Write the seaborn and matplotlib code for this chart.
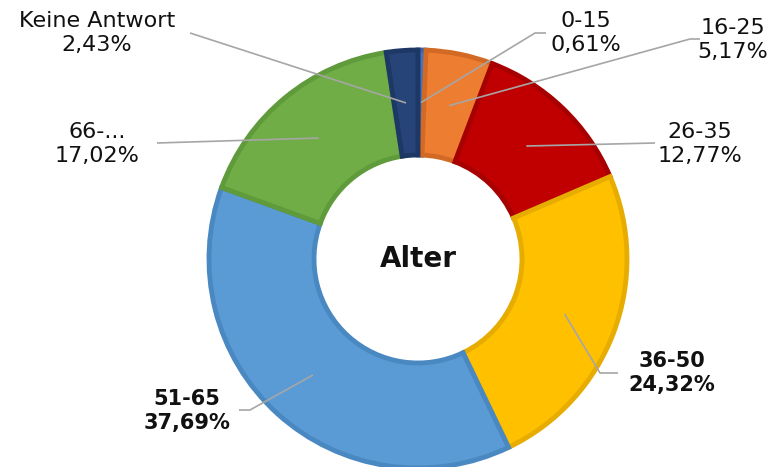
import numpy as np
import matplotlib.pyplot as plt
import seaborn as sns

# Age groups (Alter) and their shares in percent
labels = ['0-15', '16-25', '26-35', '36-50', '51-65', '66-...', 'Keine Antwort']
shares = [0.61, 5.17, 12.77, 24.32, 37.69, 17.02, 2.43]
pct_text = ['0,61%', '5,17%', '12,77%', '24,32%', '37,69%', '17,02%', '2,43%']
bold = [False, False, False, True, True, False, False]

colors = ['#4472C4', '#ED7D31', '#C00000', '#FFC000', '#5B9BD5', '#70AD47', '#264478']
edges = ['#3a62ad', '#d26a25', '#a60000', '#e6ac00', '#4a88c2', '#5f9a3b', '#1e3866']

# label anchor (pixels, top-left origin) and elbow point of the leader line
label_pos = [(586, 33), (733, 40), (700, 144), (672, 373), (187, 411), (97, 144), (97, 33)]
elbow = [(546, 33), (700, 39), (655, 143), (618, 373), (239, 410), (157, 143), (190, 33)]
elbow2 = [(535, 33), (690, 39), None, (600, 373), (250, 410), None, None]

sns.set_theme(style='white')
plt.rcParams['font.family'] = ['DejaVu Sans']

W, H = 776, 467
fig = plt.figure(figsize=(W / 100, H / 100), dpi=100)
ax = fig.add_axes([0, 0, 1, 1])

cx, cy, R, ring = 418, 259, 209, 105

wedges, _ = ax.pie(shares, colors=colors, startangle=90, counterclock=False,
                   center=(cx, H - cy), radius=R,
                   wedgeprops=dict(width=ring))
for w, ec in zip(wedges, edges):
    w.set_edgecolor(ec)
    w.set_linewidth(3.5)
    w.set_joinstyle('miter')

ax.set_xlim(0, W)
ax.set_ylim(0, H)
ax.set_aspect('equal')
ax.axis('off')

ax.text(cx, H - cy, 'Alter', ha='center', va='center', fontsize=20,
        fontweight='bold', color='#111111')

rmid = R - ring / 2
for i, w in enumerate(wedges):
    ang = np.deg2rad((w.theta1 + w.theta2) / 2)
    sx = cx + rmid * np.cos(ang)
    sy = (H - cy) + rmid * np.sin(ang)
    pts_x = [sx]
    pts_y = [sy]
    if elbow2[i] is not None:
        pts_x.append(elbow2[i][0])
        pts_y.append(H - elbow2[i][1])
    pts_x.append(elbow[i][0])
    pts_y.append(H - elbow[i][1])
    ax.plot(pts_x, pts_y, color='#a6a6a6', lw=1.2, solid_capstyle='butt')
    lx, ly = label_pos[i]
    ax.text(lx, H - ly, labels[i] + '\n' + pct_text[i], ha='center', va='center',
            fontsize=15 if bold[i] else 16, linespacing=1.3, color='#111111',
            fontweight='bold' if bold[i] else 'normal')

fig.savefig('out.png', dpi=100)
